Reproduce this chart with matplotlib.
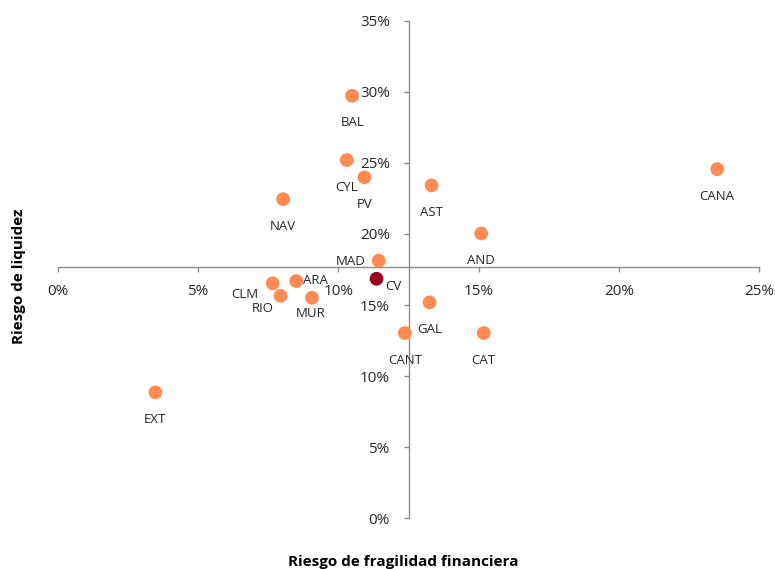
import numpy as np
import matplotlib
matplotlib.use("Agg")
import matplotlib.pyplot as plt
from matplotlib.ticker import FuncFormatter

plt.rcParams['font.family'] = ['Open Sans', 'DejaVu Sans']

# ── Data (% values) ──────────────────────────────────────────────────────────
regions = ["BAL", "CYL", "PV", "NAV", "MAD", "CLM", "ARA", "RIO", "MUR",
           "EXT", "AST", "AND", "CANA", "GAL", "CANT", "CAT", "CV"]
fragilidad = [10.49, 10.30, 10.93, 8.03, 11.44, 7.66, 8.50, 7.94, 9.06,
              3.48, 13.32, 15.09, 23.50, 13.25, 12.37, 15.18, 11.36]
liquidez = [29.72, 25.20, 23.98, 22.45, 18.12, 16.53, 16.69, 15.65, 15.51,
            8.86, 23.42, 20.04, 24.56, 15.19, 13.03, 13.03, 16.85]

x_ticks = [0, 5, 10, 15, 20, 25]
y_ticks = [0, 5, 10, 15, 20, 25, 30, 35]

# axes cross point
x_cross = 12.5
y_cross = 17.7

# label offsets in pixels (default: below the point)
label_offsets = {
    "CLM": (-28, -11),
    "RIO": (-18, -13),
    "MUR": (-1, -16),
    "ARA": (19, 1),
    "CV": (17, -8),
    "MAD": (-28, -1),
}

orange = "#FF8B52"
dark_red = "#990022"

fig = plt.figure(figsize=(7.75, 5.69), dpi=100)
ax = fig.add_axes([0.0745, 0.0891, 0.9053, 0.8745])

colors = [dark_red if r == "CV" else orange for r in regions]
ax.scatter(fragilidad, liquidez, s=98, c=colors, linewidths=0, zorder=3)

for r, x, y in zip(regions, fragilidad, liquidez):
    dx, dy = label_offsets.get(r, (0, -27))
    ax.annotate(r, (x, y), xytext=(dx, dy), textcoords="offset pixels",
                ha="center", va="center", fontsize=9.5, color="#262626")

ax.set_xlim(0, 25)
ax.set_ylim(0, 35)
ax.set_xticks(x_ticks)
ax.set_yticks(y_ticks)
pct = FuncFormatter(lambda v, p: f"{v:.0f}%")
ax.xaxis.set_major_formatter(pct)
ax.yaxis.set_major_formatter(pct)

for side in ["top", "right"]:
    ax.spines[side].set_visible(False)
ax.spines["left"].set_position(("data", x_cross))
ax.spines["bottom"].set_position(("data", y_cross))
for side in ["left", "bottom"]:
    ax.spines[side].set_color("#8C8C8C")
    ax.spines[side].set_linewidth(1.0)

ax.tick_params(axis="x", direction="out", length=3.5, width=1, color="#8C8C8C",
               labelsize=11, labelcolor="#262626", pad=9)
ax.tick_params(axis="y", direction="out", length=3.5, width=1, color="#8C8C8C",
               labelsize=11, labelcolor="#262626", pad=10)

fig.text(0.52, 0.012, "Riesgo de fragilidad financiera", ha="center", va="center",
         fontsize=11, fontweight="bold", color="black")
fig.text(0.024, 0.515, "Riesgo de liquidez", ha="center", va="center",
         rotation=90, fontsize=11, fontweight="bold", color="black")

fig.savefig("out.png", dpi=100)
